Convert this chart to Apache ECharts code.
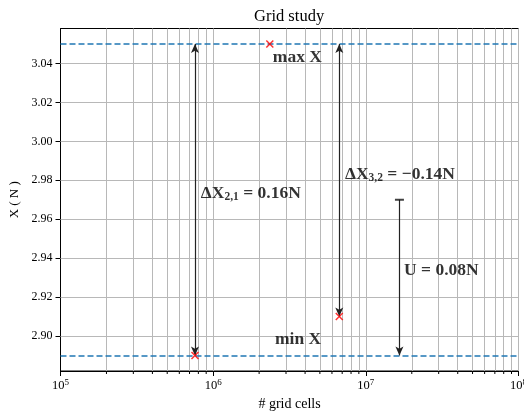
<!DOCTYPE html>
<html><head><meta charset="utf-8">
<script src="https://cdn.jsdelivr.net/npm/echarts@6/dist/echarts.min.js"></script>
<style>html,body{margin:0;padding:0;background:#fff}#c{width:524px;height:411px}</style>
</head><body><div id="c"></div>
<script>
// ---- data ----
const cells = [7.6e5, 2.35e6, 6.7e6];
const values = [2.89, 3.05, 2.91];
const maxX = 3.05;
const minX = 2.89;
const uCells = 1.66e7;
const uTop = 2.97;
const uBottom = 2.89;
const yTicks = [2.90, 2.92, 2.94, 2.96, 2.98, 3.00, 3.02, 3.04];
const xMajor = [1e5, 1e6, 1e7, 1e8];
const xMinor = [2e5, 3e5, 4e5, 5e5, 6e5, 7e5, 8e5, 9e5,
                2e6, 3e6, 4e6, 5e6, 6e6, 7e6, 8e6, 9e6,
                2e7, 3e7, 4e7, 5e7, 6e7, 7e7, 8e7, 9e7];
const annTexts = ['max X', 'min X', 'dx21', 'dx32', 'u'];
const annAnchors = [[2.46e6, 3.043], [2.54e6, 2.898], [8.3e5, 2.9734], [7.3e6, 2.9832], [1.78e7, 2.9334]];

const Y_MIN = 2.882, Y_MAX = 3.058;
const FONT = 'Liberation Serif';
const chart = echarts.init(document.getElementById('c'), null, {renderer: 'canvas'});

const richText = {
  b: {fontFamily: FONT, fontWeight: 'bold', fontSize: 17.5, color: '#000'},
  sub: {fontFamily: FONT, fontWeight: 'bold', fontSize: 11.5, color: '#000', verticalAlign: 'bottom', padding: [7, 0, 0, 0]},
  n: {fontFamily: FONT, fontSize: 17.5, color: '#000'}
};
function annFormatter(p) {
  const t = annTexts[p.dataIndex];
  if (t === 'dx21') return '{b|ΔX}{sub|2,1}{b| = 0.16N}';
  if (t === 'dx32') return '{b|ΔX}{sub|3,2}{b| = −0.14N}';
  if (t === 'u') return '{b|U = 0.08N}';
  return '{b|' + t + '}';
}

const option = {
  animation: false,
  backgroundColor: '#fff',
  title: {
    text: 'Grid study', left: 249, top: 3,
    textStyle: {fontFamily: FONT, fontSize: 16.5, fontWeight: 'normal', color: '#000'}
  },
  grid: {left: 60.5, right: 5.5, top: 28.5, bottom: 40, outerBoundsMode: 'none', containLabel: false,
    show: true, borderColor: '#000', borderWidth: 1, backgroundColor: 'transparent'},
  xAxis: {
    type: 'log', logBase: 10, min: xMajor[0], max: xMajor[xMajor.length - 1],
    name: '# grid cells', nameLocation: 'middle', nameGap: 23,
    nameTextStyle: {fontFamily: FONT, fontSize: 14, color: '#000'},
    axisLine: {show: true, lineStyle: {color: '#000', width: 1}},
    axisTick: {show: true, inside: false, length: 5, lineStyle: {color: '#000'}},
    splitLine: {show: true, lineStyle: {color: '#b8b8b8', width: 1}},
    axisLabel: {
      fontFamily: FONT, fontSize: 12.5, color: '#000', margin: 7,
      formatter: function (v) { return '10{s|' + Math.round(Math.log10(v)) + '}'; },
      rich: {s: {fontFamily: FONT, fontSize: 9, color: '#000', verticalAlign: 'top', padding: [0, 0, 7, 0]}}
    }
  },
  yAxis: {
    type: 'value', min: Y_MIN, max: Y_MAX,
    name: 'X ( N )', nameLocation: 'middle', nameGap: 37, nameRotate: 90,
    nameTextStyle: {fontFamily: FONT, fontSize: 13, color: '#000'},
    axisLine: {show: true, lineStyle: {color: '#000', width: 1}},
    axisTick: {show: true, inside: false, length: 5, customValues: yTicks, lineStyle: {color: '#000'}},
    splitLine: {show: false},
    axisLabel: {fontFamily: FONT, fontSize: 12, color: '#000', margin: 8, customValues: yTicks,
      formatter: function (v) { return v.toFixed(2); }}
  },
  series: [
    { // grid lines (minor x + major y)
      type: 'line', data: [], silent: true, z: 1,
      markLine: {
        silent: true, symbol: ['none', 'none'], label: {show: false}, animation: false,
        lineStyle: {color: '#b8b8b8', width: 1, type: 'solid'},
        data: xMinor.map(v => ({xAxis: v})).concat(yTicks.map(v => ({yAxis: v})))
      }
    },
    { // min / max dashed reference lines
      type: 'line', data: [], silent: true, z: 3,
      markLine: {
        silent: true, symbol: ['none', 'none'], label: {show: false}, animation: false,
        lineStyle: {color: '#1f77b4', width: 1.6, type: [6, 3]},
        data: [{yAxis: maxX}, {yAxis: minX}]
      }
    },
    { // arrows
      type: 'line', data: [], silent: true, z: 4,
      markLine: {
        silent: true, label: {show: false}, animation: false,
        symbol: ['arrow', 'arrow'], symbolSize: [6, 9],
        lineStyle: {color: '#222', width: 1.2, type: 'solid'},
        data: [
          [{coord: [cells[0], maxX]}, {coord: [cells[0], values[0]]}],
          [{coord: [cells[2], maxX]}, {coord: [cells[2], values[2]]}],
          [{coord: [uCells, uTop], symbol: 'none'}, {coord: [uCells, uBottom], symbol: 'arrow'}]
        ]
      }
    },
    { // U cap
      type: 'scatter', data: [[uCells, uTop]], symbol: 'rect', symbolSize: [9, 2], z: 5,
      itemStyle: {color: '#111'}, silent: true
    },
    { // minor ticks on x-axis
      type: 'custom', z: 6, silent: true, clip: false,
      data: xMinor.map(v => [v, Y_MIN]),
      renderItem: function (params, api) {
        const p = api.coord([api.value(0), api.value(1)]);
        return {type: 'line', shape: {x1: p[0], y1: p[1], x2: p[0], y2: p[1] + 3}, style: {stroke: '#000', lineWidth: 1}};
      }
    },
    { // points
      type: 'scatter', z: 7, silent: true,
      data: cells.map((c, i) => [c, values[i]]),
      symbol: 'path://M0,0L10,10M10,0L0,10', symbolSize: 7,
      itemStyle: {color: 'red', borderColor: 'red', borderWidth: 1.5}
    },
    { // annotations
      type: 'scatter', z: 8, silent: true, symbolSize: 0,
      data: annAnchors,
      label: {show: true, position: 'right', distance: 0, formatter: annFormatter, rich: richText}
    }
  ]
};
chart.setOption(option);
</script>
</body></html>
